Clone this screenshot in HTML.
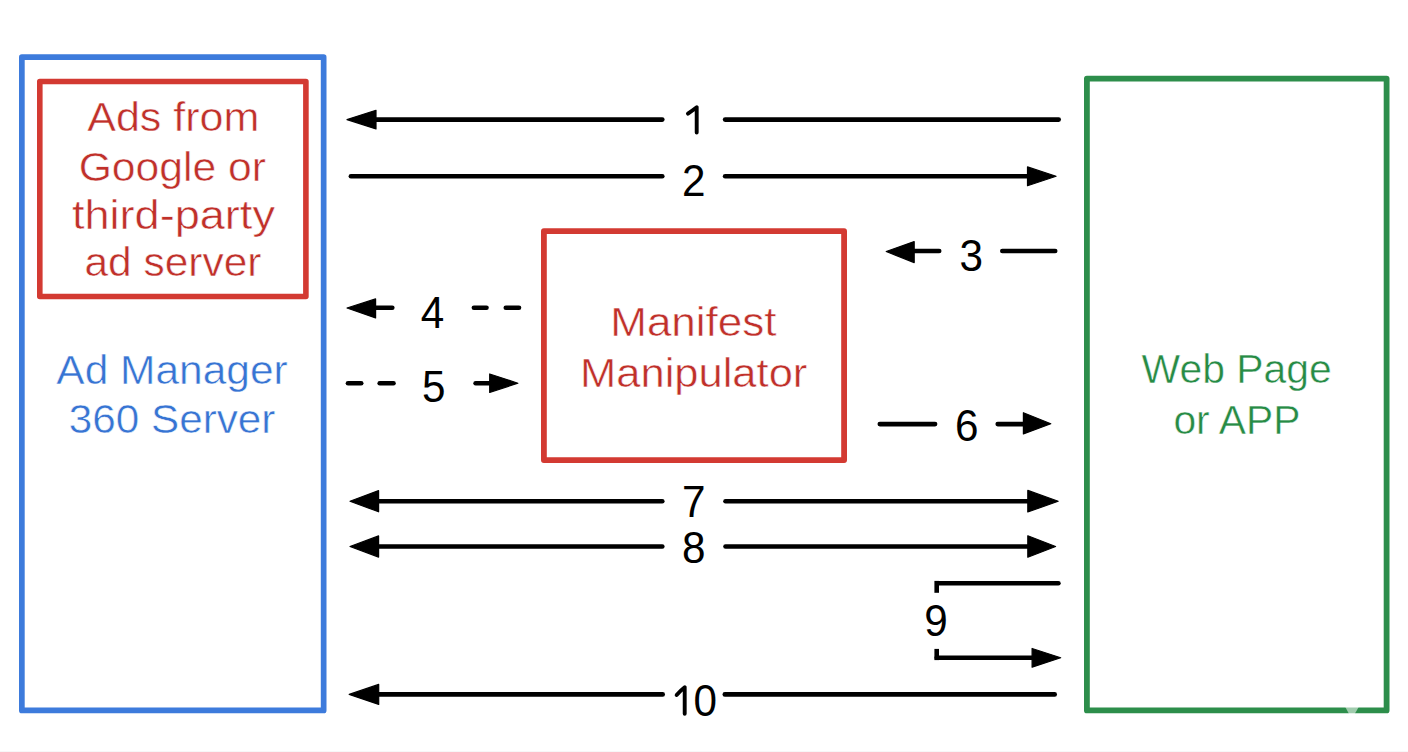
<!DOCTYPE html>
<html><head><meta charset="utf-8"><style>
html,body{margin:0;padding:0;background:#fff;}
body{width:1408px;height:752px;overflow:hidden;}
svg{display:block;}
text{font-family:"Liberation Sans",sans-serif;text-anchor:middle;}
.n{font-size:44.5px;fill:#000;}
.tr{font-size:41px;fill:#c0302a;stroke:#fff;stroke-width:0.5px;}
.tb{font-size:41px;fill:#3774d3;stroke:#fff;stroke-width:0.5px;}
.tg{font-size:41px;fill:#278b45;stroke:#fff;stroke-width:0.5px;}
</style></head><body>
<svg width="1408" height="752" viewBox="0 0 1408 752">
<rect x="21.85" y="57.15" width="301.80" height="653.30" rx="0" fill="none" stroke="#3d7bdc" stroke-width="5.7" stroke-linejoin="round"/>
<rect x="39.80" y="81.50" width="266.10" height="215.00" rx="0" fill="none" stroke="#d33a32" stroke-width="5.6" stroke-linejoin="round"/>
<rect x="543.90" y="231.20" width="300.20" height="228.90" rx="0" fill="none" stroke="#d33a32" stroke-width="5.8" stroke-linejoin="round"/>
<rect x="1086.90" y="78.60" width="299.70" height="631.80" rx="0" fill="none" stroke="#2d8e4b" stroke-width="5.8" stroke-linejoin="round"/>
<path d="M347 119.60 L376 110.30 L376 128.90 Z" fill="#000" stroke="#000" stroke-width="1.2" stroke-linejoin="round"/>
<line x1="374.30" y1="119.6" x2="662.30" y2="119.6" stroke="#000" stroke-width="4.6" stroke-linecap="round"/>
<line x1="725.10" y1="119.6" x2="1058.70" y2="119.6" stroke="#000" stroke-width="4.6" stroke-linecap="round"/>
<path d="M687.95 113.70 Q692.70 110.30 696.70 107.25 L696.70 132.55" fill="none" stroke="#000" stroke-width="3.9" stroke-linecap="round" stroke-linejoin="round"/>
<line x1="350.90" y1="176.3" x2="662.30" y2="176.3" stroke="#000" stroke-width="4.6" stroke-linecap="round"/>
<line x1="725.10" y1="176.3" x2="1027.70" y2="176.3" stroke="#000" stroke-width="4.6" stroke-linecap="round"/>
<path d="M1056.1 176.30 L1027.5 166.90 L1027.5 185.70 Z" fill="#000" stroke="#000" stroke-width="1.2" stroke-linejoin="round"/>
<text transform="translate(693.87 195.78) scale(0.95 1)" class="n">2</text>
<path d="M886.2 251.55 L914.2 241.60 L914.2 262.60 Z" fill="#000" stroke="#000" stroke-width="1.2" stroke-linejoin="round"/>
<line x1="912.30" y1="251" x2="939.20" y2="251" stroke="#000" stroke-width="4.6" stroke-linecap="round"/>
<text transform="translate(971.14 271.18) scale(0.95 1)" class="n">3</text>
<line x1="1002.30" y1="251" x2="1055.20" y2="251" stroke="#000" stroke-width="4.6" stroke-linecap="round"/>
<path d="M347 308.05 L375.6 298.90 L375.6 317.90 Z" fill="#000" stroke="#000" stroke-width="1.2" stroke-linejoin="round"/>
<line x1="374.30" y1="307.7" x2="392.30" y2="307.7" stroke="#000" stroke-width="4.6" stroke-linecap="round"/>
<text transform="translate(432.52 327.50) scale(0.95 1)" class="n">4</text>
<line x1="473.90" y1="307.7" x2="486.50" y2="307.7" stroke="#000" stroke-width="4.6" stroke-linecap="round"/>
<line x1="505.80" y1="307.7" x2="519.00" y2="307.7" stroke="#000" stroke-width="4.6" stroke-linecap="round"/>
<line x1="348.00" y1="383.2" x2="361.20" y2="383.2" stroke="#000" stroke-width="4.6" stroke-linecap="round"/>
<line x1="379.70" y1="383.2" x2="393.50" y2="383.2" stroke="#000" stroke-width="4.6" stroke-linecap="round"/>
<text transform="translate(433.86 401.64) scale(0.95 1)" class="n">5</text>
<line x1="475.60" y1="383.2" x2="490.70" y2="383.2" stroke="#000" stroke-width="4.6" stroke-linecap="round"/>
<path d="M517.9 383.20 L489.7 373.95 L489.7 392.45 Z" fill="#000" stroke="#000" stroke-width="1.2" stroke-linejoin="round"/>
<line x1="879.80" y1="424.1" x2="935.10" y2="424.1" stroke="#000" stroke-width="4.6" stroke-linecap="round"/>
<text transform="translate(966.76 440.88) scale(0.95 1)" class="n">6</text>
<line x1="997.70" y1="424.1" x2="1023.70" y2="424.1" stroke="#000" stroke-width="4.6" stroke-linecap="round"/>
<path d="M1050.8 423.70 L1023.4 412.70 L1023.4 433.90 Z" fill="#000" stroke="#000" stroke-width="1.2" stroke-linejoin="round"/>
<path d="M350 501.20 L378.6 490.60 L378.6 511.80 Z" fill="#000" stroke="#000" stroke-width="1.2" stroke-linejoin="round"/>
<line x1="377.30" y1="501.2" x2="662.30" y2="501.2" stroke="#000" stroke-width="4.6" stroke-linecap="round"/>
<text transform="translate(693.87 516.60) scale(0.95 1)" class="n">7</text>
<line x1="725.50" y1="501.2" x2="1028.70" y2="501.2" stroke="#000" stroke-width="4.6" stroke-linecap="round"/>
<path d="M1058.2 501.20 L1027.8 490.40 L1027.8 512.00 Z" fill="#000" stroke="#000" stroke-width="1.2" stroke-linejoin="round"/>
<path d="M350 546.50 L378.6 535.90 L378.6 557.10 Z" fill="#000" stroke="#000" stroke-width="1.2" stroke-linejoin="round"/>
<line x1="377.30" y1="546.5" x2="662.30" y2="546.5" stroke="#000" stroke-width="4.6" stroke-linecap="round"/>
<text transform="translate(693.86 562.64) scale(0.95 1)" class="n">8</text>
<line x1="725.50" y1="546.5" x2="1028.70" y2="546.5" stroke="#000" stroke-width="4.6" stroke-linecap="round"/>
<path d="M1055.6 546.50 L1027.8 535.75 L1027.8 557.25 Z" fill="#000" stroke="#000" stroke-width="1.2" stroke-linejoin="round"/>
<line x1="937.90" y1="583.2" x2="1058.40" y2="583.2" stroke="#000" stroke-width="4.6" stroke-linecap="round"/>
<line x1="936.7" y1="583.2" x2="936.7" y2="590.5" stroke="#000" stroke-width="4.6" stroke-linecap="square"/>
<text transform="translate(936.11 636.12) scale(0.95 1)" class="n">9</text>
<line x1="936.7" y1="651.2" x2="936.7" y2="657.8" stroke="#000" stroke-width="4.6" stroke-linecap="square"/>
<line x1="936.70" y1="657.8" x2="1032.70" y2="657.8" stroke="#000" stroke-width="4.6" stroke-linecap="round"/>
<path d="M1060.7 657.80 L1032.1 648.45 L1032.1 667.15 Z" fill="#000" stroke="#000" stroke-width="1.2" stroke-linejoin="round"/>
<path d="M349.2 694.40 L378.7 684.40 L378.7 704.40 Z" fill="#000" stroke="#000" stroke-width="1.2" stroke-linejoin="round"/>
<line x1="377.30" y1="694.4" x2="662.70" y2="694.4" stroke="#000" stroke-width="4.6" stroke-linecap="round"/>
<path d="M676.65 695.00 Q680.70 690.30 684.70 687.25 L684.70 713.75" fill="none" stroke="#000" stroke-width="3.9" stroke-linecap="round" stroke-linejoin="round"/>
<text transform="translate(705.25 716.24) scale(0.95 1)" class="n">0</text>
<line x1="724.80" y1="694.4" x2="1054.70" y2="694.4" stroke="#000" stroke-width="4.6" stroke-linecap="round"/>
<text transform="translate(173.28 130.96) scale(1.0498 1)" class="tr">Ads from</text>
<text transform="translate(172.32 180.62) scale(1.0405 1)" class="tr">Google or</text>
<text transform="translate(173.44 229.22) scale(1.1001 1)" class="tr">third-party</text>
<text transform="translate(172.96 276.44) scale(1.0355 1)" class="tr">ad server</text>
<text transform="translate(172.00 383.56) scale(1.0361 1)" class="tb">Ad Manager</text>
<text transform="translate(172.08 432.88) scale(1.0312 1)" class="tb">360 Server</text>
<text transform="translate(693.38 335.64) scale(1.0738 1)" class="tr">Manifest</text>
<text transform="translate(693.70 387.02) scale(1.0607 1)" class="tr">Manipulator</text>
<text transform="translate(1236.66 383.12) scale(0.9980 1)" class="tg">Web Page</text>
<text transform="translate(1236.90 433.74) scale(0.9954 1)" class="tg">or APP</text>
<path d="M1345.3 707 L1358.7 707 L1354.7 714 L1349 714 Z" fill="#fff" opacity="0.55"/>
<rect x="0" y="751" width="1408" height="1" fill="#f7f7f7"/>
</svg>
</body></html>
